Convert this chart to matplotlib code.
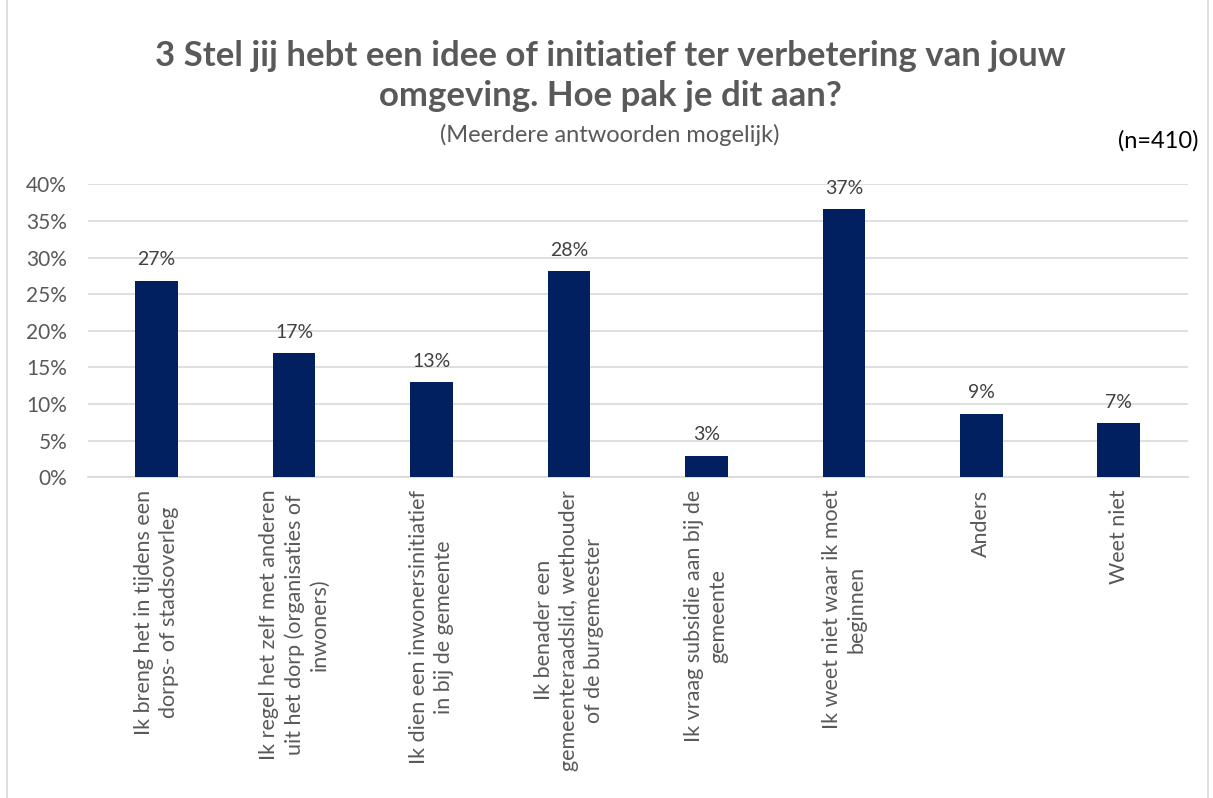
import numpy as np
import matplotlib
matplotlib.use("Agg")
import matplotlib.pyplot as plt
from matplotlib.patches import Rectangle

plt.rcParams['font.family'] = ['Lato', 'DejaVu Sans']

categories = [
    "Ik breng het in tijdens een\ndorps- of stadsoverleg",
    "Ik regel het zelf met anderen\nuit het dorp (organisaties of\ninwoners)",
    "Ik dien een inwonersinitiatief\nin bij de gemeente",
    "Ik benader een\ngemeenteraadslid, wethouder\nof de burgemeester",
    "Ik vraag subsidie aan bij de\ngemeente",
    "Ik weet niet waar ik moet\nbeginnen",
    "Anders",
    "Weet niet",
]
values = [0.268, 0.169, 0.130, 0.281, 0.029, 0.366, 0.087, 0.074]
value_labels = ["27%", "17%", "13%", "28%", "3%", "37%", "9%", "7%"]
yticks = [0, 0.05, 0.10, 0.15, 0.20, 0.25, 0.30, 0.35, 0.40]
ytick_labels = ["0%", "5%", "10%", "15%", "20%", "25%", "30%", "35%", "40%"]

TXT = '#595959'
fig = plt.figure(figsize=(12.13, 7.98), dpi=100)
ax = fig.add_axes([0.0725, 0.402, 0.9065, 0.367])

x = np.arange(len(categories))
ax.bar(x, values, width=0.31, color='#002060', zorder=3)
for xi, v, lab in zip(x, values, value_labels):
    ax.annotate(lab, (xi, v), xytext=(0, 9), textcoords='offset points',
                ha='center', va='bottom', fontsize=14, color='#404040')

ax.set_xlim(-0.5, len(categories) - 0.5)
ax.set_ylim(0, 0.40)
ax.set_yticks(yticks)
ax.set_yticklabels(ytick_labels, fontsize=15, color=TXT)
ax.set_xticks(x)
ax.set_xticklabels(categories, rotation=90, ha='center', va='top',
                   multialignment='center', fontsize=15.5, color=TXT,
                   linespacing=1.3)
ax.tick_params(axis='both', length=0)
ax.tick_params(axis='y', pad=15)
ax.tick_params(axis='x', pad=9)
ax.yaxis.grid(True, color='#d9d9d9', linewidth=1.2, zorder=0)
for s in ['top', 'right', 'left']:
    ax.spines[s].set_visible(False)
ax.spines['bottom'].set_color('#d9d9d9')
ax.spines['bottom'].set_linewidth(1.2)

fig.text(0.503, 0.905, "3 Stel jij hebt een idee of initiatief ter verbetering van jouw\nomgeving. Hoe pak je dit aan?",
         ha='center', va='center', fontsize=25, fontweight='bold', color=TXT,
         linespacing=1.3)
fig.text(0.503, 0.831, "(Meerdere antwoorden mogelijk)", ha='center', va='center',
         fontsize=17, color=TXT)
fig.text(0.988, 0.824, "(n=410)", ha='right', va='center', fontsize=17, color='black')

fig.patches.append(Rectangle((0.006, -0.01), 0.99, 1.02, transform=fig.transFigure,
                             fill=False, edgecolor='#d9d9d9', linewidth=1.2))

fig.savefig('out.png', dpi=100, facecolor='white')
